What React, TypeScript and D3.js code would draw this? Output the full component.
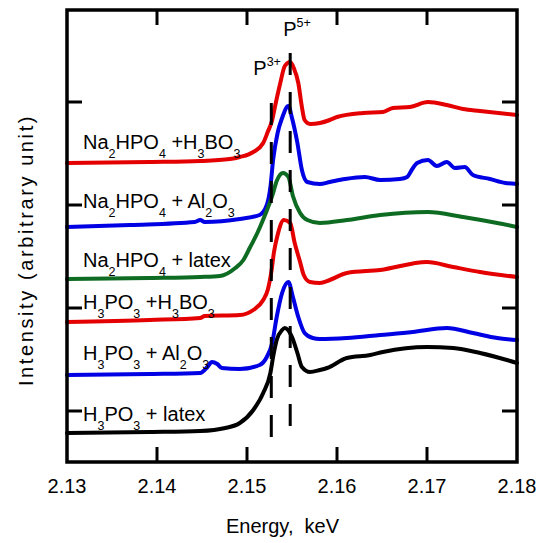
import React from 'react';
import * as d3 from 'd3';

// energy axis ticks (keV) and inward y ticks (arbitrary unit)
const energyTicks = [2.13, 2.14, 2.15, 2.16, 2.17, 2.18];
const intensityTicks = [51, 154, 257, 360];

// P3+ / P5+ reference energies
const p3Energy = 2.1527;
const p5Energy = 2.1548;

// spectra, [energy keV, intensity]
const naHpoBoric = [
  [2.13, 299], [2.1392, 300], [2.1448, 301], [2.1481, 303], [2.1492, 305], [2.1507, 310],
  [2.1518, 319], [2.1523, 330], [2.1528, 342], [2.1531, 355], [2.1537, 379], [2.1542, 396],
  [2.1548, 400], [2.1552, 394], [2.1557, 379], [2.1561, 355], [2.1564, 342], [2.157, 338],
  [2.1581, 339], [2.1592, 342], [2.16, 345], [2.1629, 349], [2.1651, 350], [2.1662, 354],
  [2.1681, 355], [2.1701, 360], [2.1722, 357], [2.174, 353], [2.1759, 351], [2.18, 347],
];
const naHpoAlumina = [
  [2.13, 235], [2.137, 237], [2.1442, 240], [2.1448, 242], [2.1453, 240], [2.1492, 243],
  [2.1514, 247], [2.1522, 257], [2.1526, 275], [2.1529, 302], [2.1534, 329], [2.1539, 344],
  [2.1546, 356], [2.155, 344], [2.1556, 319], [2.1561, 292], [2.1567, 280], [2.1581, 278],
  [2.1592, 280], [2.1609, 283], [2.1631, 285], [2.1648, 282], [2.167, 283], [2.1678, 285],
  [2.1683, 292], [2.1689, 299], [2.1701, 302], [2.1711, 296], [2.1722, 300], [2.1731, 294],
  [2.1742, 295], [2.1751, 287], [2.177, 283], [2.1787, 279], [2.18, 278],
];
const naHpoLatex = [
  [2.13, 183], [2.1392, 184], [2.1448, 185], [2.147, 186], [2.1487, 194], [2.1496, 202],
  [2.1503, 214], [2.1512, 230], [2.152, 247], [2.1528, 266], [2.1533, 281], [2.154, 289],
  [2.1546, 285], [2.1551, 266], [2.1559, 249], [2.1567, 242], [2.1581, 239], [2.1611, 242],
  [2.1648, 247], [2.1701, 250], [2.174, 245], [2.1778, 239], [2.18, 235],
];
const hpoBoric = [
  [2.13, 140], [2.1392, 142], [2.1448, 144], [2.1453, 146], [2.1492, 147], [2.1507, 152],
  [2.1518, 162], [2.1523, 172], [2.1527, 190], [2.153, 210], [2.1534, 227], [2.1541, 242],
  [2.1548, 239], [2.1553, 219], [2.1559, 200], [2.1563, 187], [2.157, 180], [2.1581, 179],
  [2.1592, 182], [2.1611, 189], [2.1648, 192], [2.17, 200], [2.1729, 195], [2.1759, 190],
  [2.18, 185],
];
const hpoAlumina = [
  [2.13, 87], [2.1392, 88], [2.1448, 89], [2.1456, 95], [2.1461, 100], [2.1467, 98],
  [2.1472, 94], [2.1492, 93], [2.1514, 97], [2.1522, 105], [2.1528, 119], [2.1533, 145],
  [2.1539, 169], [2.1546, 180], [2.1551, 165], [2.1557, 145], [2.1564, 129], [2.1573, 124],
  [2.1581, 123], [2.1611, 124], [2.1648, 127], [2.1684, 130], [2.1722, 134], [2.1751, 129],
  [2.1778, 124], [2.18, 122],
];
const hpoLatex = [
  [2.13, 29], [2.1392, 30], [2.1448, 31], [2.1476, 34], [2.1492, 39], [2.1507, 52],
  [2.1518, 69], [2.1526, 89], [2.1529, 105], [2.1533, 122], [2.1539, 132], [2.1542, 134],
  [2.155, 125], [2.1556, 109], [2.1561, 95], [2.157, 90], [2.1581, 92], [2.1589, 94],
  [2.1611, 104], [2.1637, 107], [2.1651, 110], [2.17, 115], [2.1729, 114], [2.1759, 109],
  [2.18, 99],
];

const RED = '#e40000';
const BLUE = '#0000e4';
const GREEN = '#0e6b22';

// label parts: [text, subscript?]
const series = [
  { data: naHpoBoric, color: RED, labelY: 149,
    label: [['Na', 0], ['2', 1], ['HPO', 0], ['4', 1], [' +H', 0], ['3', 1], ['BO', 0], ['3', 1]] },
  { data: naHpoAlumina, color: BLUE, labelY: 208,
    label: [['Na', 0], ['2', 1], ['HPO', 0], ['4', 1], [' + Al', 0], ['2', 1], ['O', 0], ['3', 1]] },
  { data: naHpoLatex, color: GREEN, labelY: 267,
    label: [['Na', 0], ['2', 1], ['HPO', 0], ['4', 1], [' + latex', 0]] },
  { data: hpoBoric, color: RED, labelY: 309,
    label: [['H', 0], ['3', 1], ['PO', 0], ['3', 1], [' +H', 0], ['3', 1], ['BO', 0], ['3', 1]] },
  { data: hpoAlumina, color: BLUE, labelY: 360,
    label: [['H', 0], ['3', 1], ['PO', 0], ['3', 1], [' + Al', 0], ['2', 1], ['O', 0], ['3', 1]] },
  { data: hpoLatex, color: '#000', labelY: 421,
    label: [['H', 0], ['3', 1], ['PO', 0], ['3', 1], [' + latex', 0]] },
];

const font = '"Liberation Sans", Arial, sans-serif';

function Label({ x, y, parts }) {
  let shift = 0;
  return (
    <text x={x} y={y} fontSize={20} style={{ whiteSpace: 'pre' }}>
      {parts.map(([t, sub], i) => {
        const target = sub ? 9 : 0;
        const dy = target - shift;
        shift = target;
        return (
          <tspan key={i} dy={dy} fontSize={sub ? 12.5 : 20}>{t}</tspan>
        );
      })}
    </text>
  );
}

export default function App() {
  const width = 546;
  const height = 543;
  const left = 67, right = 517, top = 10, bottom = 462;

  const x = d3.scaleLinear().domain([2.13, 2.18]).range([left, right]);
  const y = d3.scaleLinear().domain([0, 452]).range([bottom, top]);

  const line = d3.line()
    .x(d => x(d[0]))
    .y(d => y(d[1]))
    .curve(d3.curveMonotoneX);

  const tickLen = 15;

  return (
    <svg width={width} height={height} style={{ position: 'absolute', left: 0, top: 0 }}
      fontFamily={font}>
      <rect width={width} height={height} fill="#fff" />

      {series.map((s, i) => (
        <path key={i} d={line(s.data)} fill="none" stroke={s.color} strokeWidth={4}
          strokeLinejoin="round" strokeLinecap="round" />
      ))}

      {/* reference lines */}
      <line x1={x(p3Energy)} x2={x(p3Energy)} y1={y(359)} y2={y(20)} stroke="#000"
        strokeWidth={3} strokeDasharray="22 17" />
      <line x1={x(p5Energy)} x2={x(p5Energy)} y1={y(409)} y2={y(32)} stroke="#000"
        strokeWidth={3} strokeDasharray="22 17" />

      <text x={x(p3Energy) - 18} y={75} fontSize={20}>
        P<tspan dy={-9} fontSize={12.5}>3+</tspan>
      </text>
      <text x={x(p5Energy) - 7} y={36} fontSize={20}>
        P<tspan dy={-9} fontSize={12.5}>5+</tspan>
      </text>

      {series.map((s, i) => (
        <Label key={i} x={83} y={s.labelY} parts={s.label} />
      ))}

      {/* ticks */}
      {energyTicks.slice(1, -1).map(t => (
        <g key={t}>
          <line x1={x(t)} x2={x(t)} y1={bottom} y2={bottom - tickLen} stroke="#000" strokeWidth={3} />
          <line x1={x(t)} x2={x(t)} y1={top} y2={top + tickLen} stroke="#000" strokeWidth={3} />
        </g>
      ))}
      {intensityTicks.map(t => (
        <g key={t}>
          <line x1={left} x2={left + tickLen} y1={y(t)} y2={y(t)} stroke="#000" strokeWidth={3} />
          <line x1={right} x2={right - tickLen} y1={y(t)} y2={y(t)} stroke="#000" strokeWidth={3} />
        </g>
      ))}

      <rect x={left} y={top} width={right - left} height={bottom - top} fill="none"
        stroke="#000" strokeWidth={3.5} />

      {energyTicks.map(t => (
        <text key={t} x={x(t)} y={493} fontSize={20} textAnchor="middle">{d3.format('.2f')(t)}</text>
      ))}

      <text x={226} y={533} fontSize={20} style={{ whiteSpace: 'pre' }}>Energy,  keV</text>
      <text transform="translate(33,250) rotate(-90)" fontSize={20} textAnchor="middle"
        letterSpacing={2.6}>
        Intensity (arbitrary unit)
      </text>
    </svg>
  );
}
